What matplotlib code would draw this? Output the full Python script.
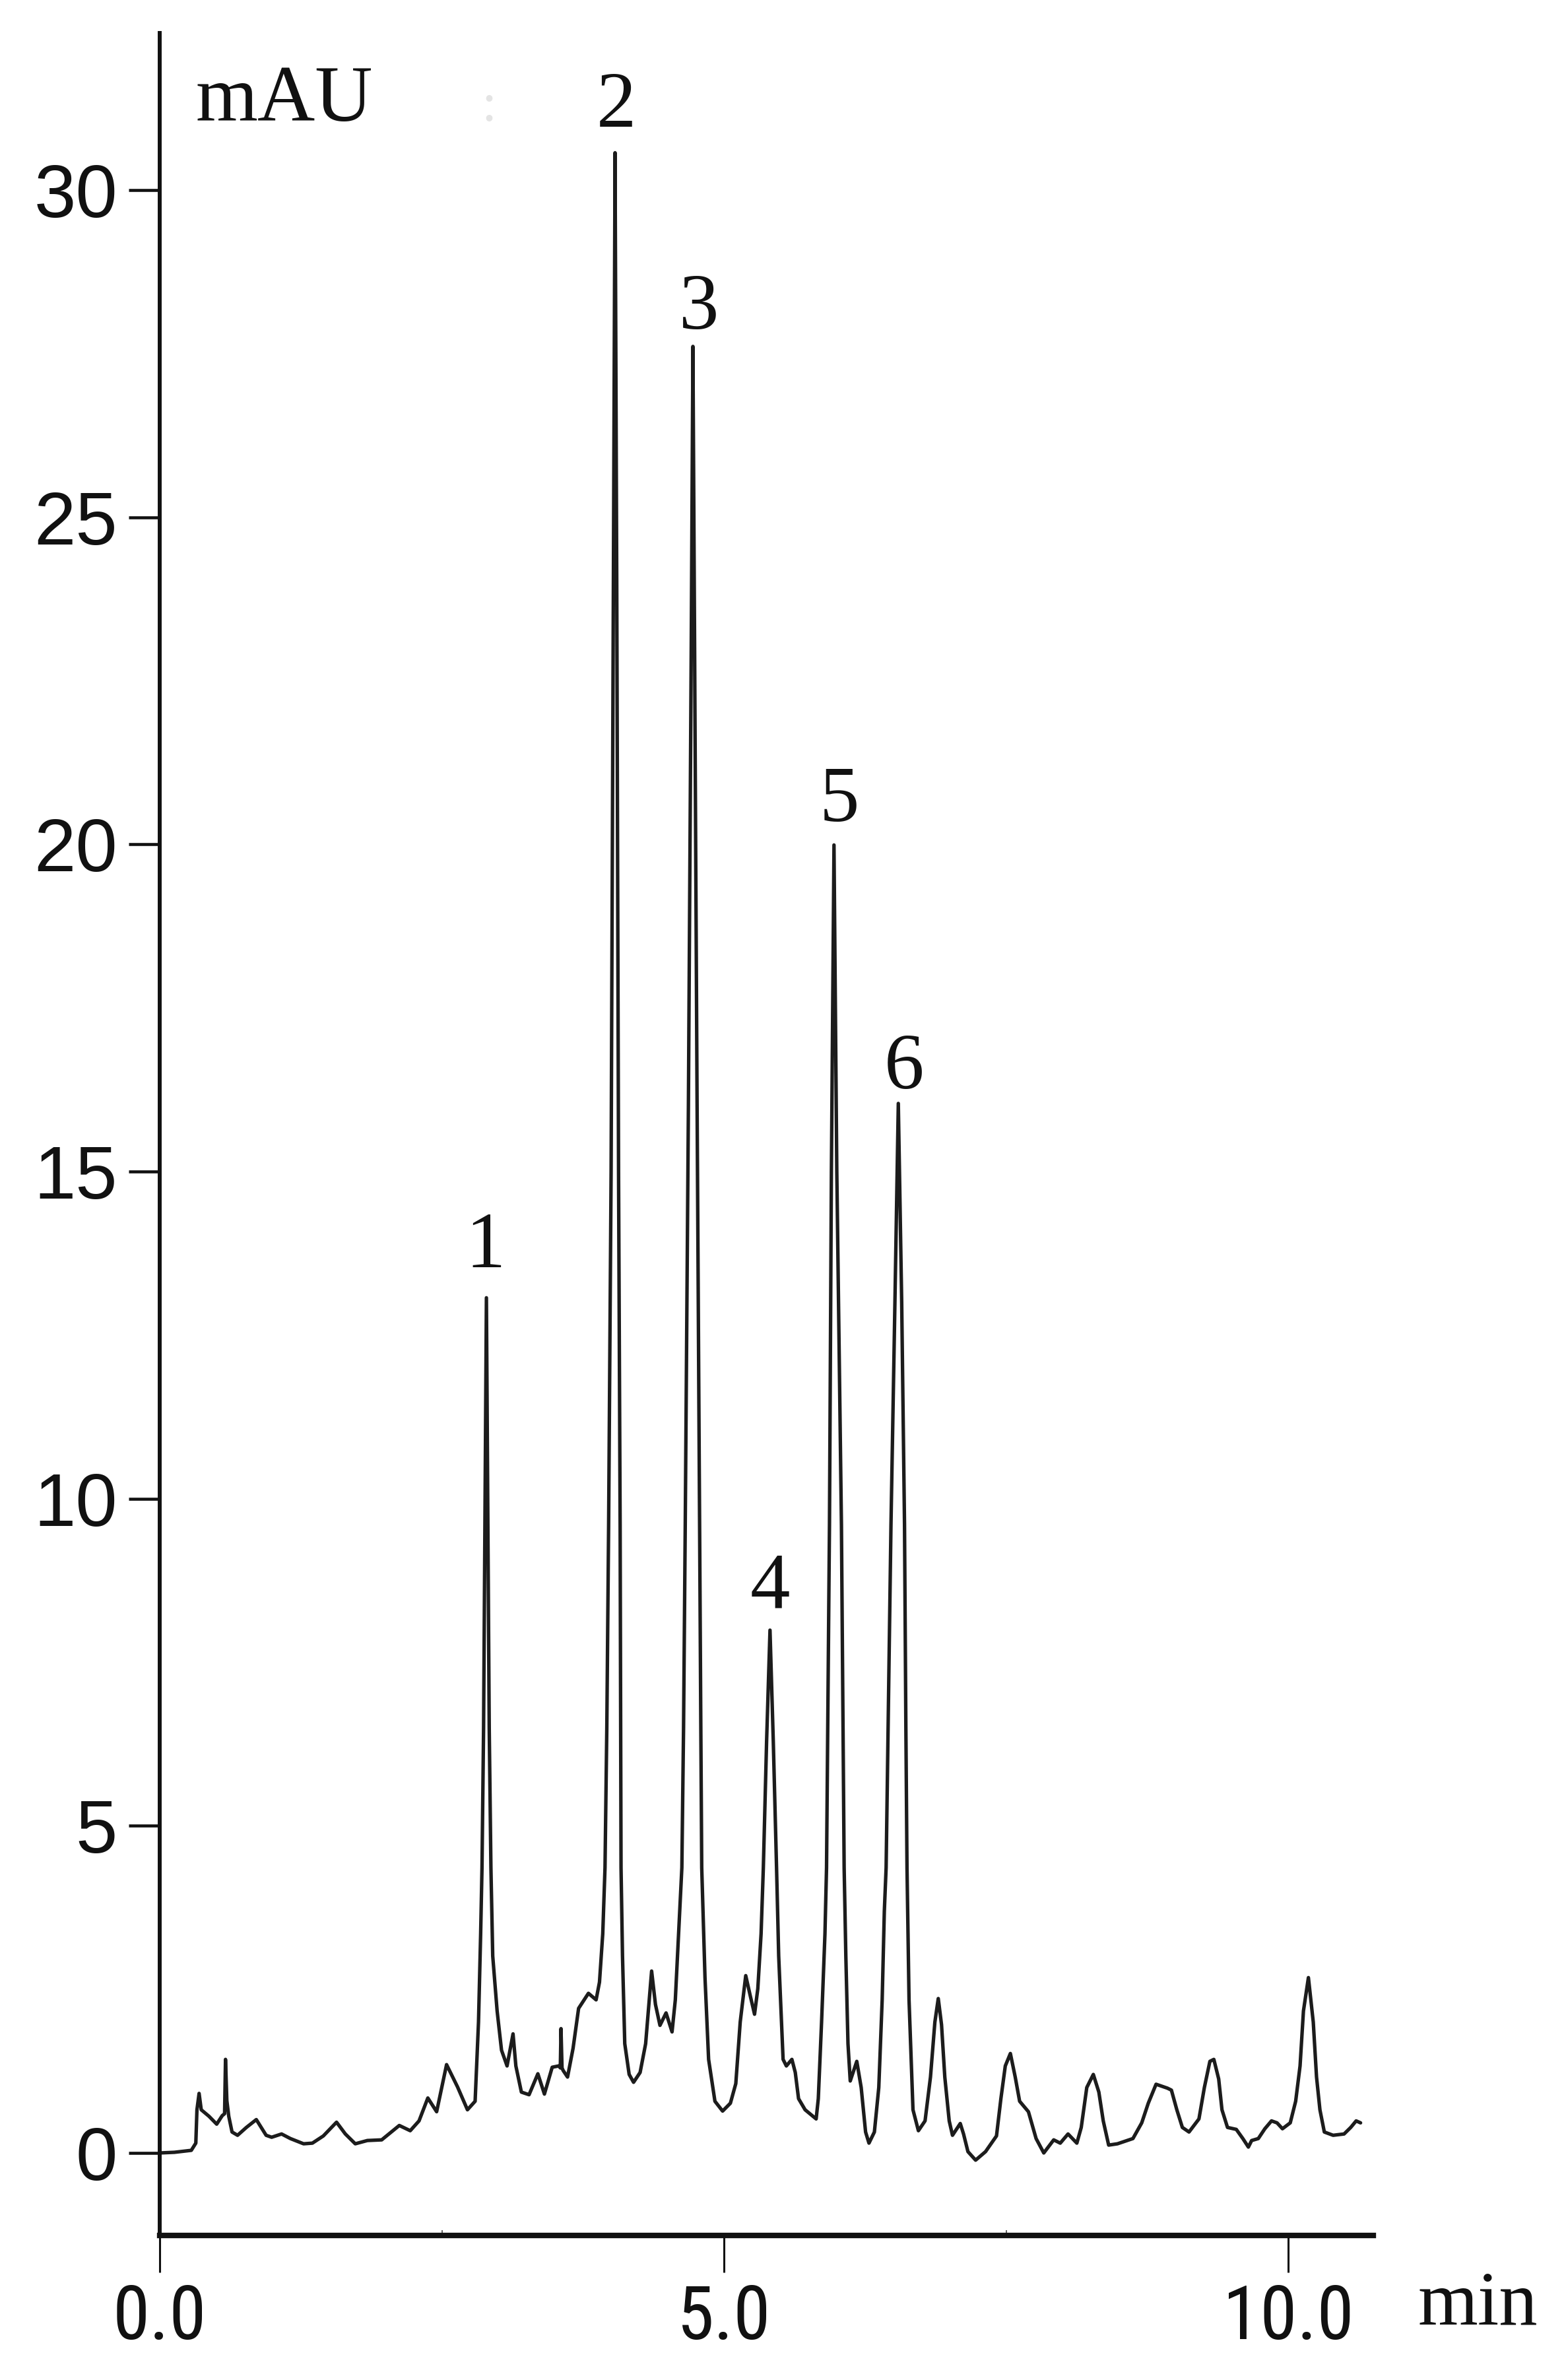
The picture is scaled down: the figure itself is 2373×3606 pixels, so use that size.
import matplotlib
matplotlib.use("Agg")
import matplotlib.pyplot as plt
from matplotlib.ticker import FixedLocator
from matplotlib import font_manager

# ---------------- data ----------------
time_min = [
    0.00, 0.13, 0.28, 0.32, 0.33, 0.349, 0.368, 0.437, 0.505, 0.554, 0.575, 0.583, 0.595, 0.612,
    0.641, 0.69, 0.768, 0.856, 0.943, 0.992, 1.080, 1.158, 1.275, 1.353, 1.450, 1.567, 1.645,
    1.733, 1.840, 1.967, 2.045, 2.123, 2.220, 2.298, 2.376, 2.454, 2.542, 2.639, 2.727, 2.795,
    2.825, 2.844, 2.856, 2.870, 2.882, 2.895, 2.908, 2.920, 2.935, 2.951, 2.990, 3.029, 3.078,
    3.131, 3.156, 3.205, 3.273, 3.351, 3.409, 3.478, 3.536, 3.550, 3.556, 3.565, 3.575, 3.614,
    3.663, 3.712, 3.799, 3.867, 3.897, 3.926, 3.946, 3.962, 3.978, 4.000, 4.020, 4.035, 4.050,
    4.066, 4.080, 4.088, 4.101, 4.121, 4.160, 4.199, 4.257, 4.306, 4.335, 4.359, 4.393, 4.433,
    4.487, 4.540, 4.569, 4.598, 4.627, 4.642, 4.657, 4.685, 4.710, 4.725, 4.740, 4.762, 4.784,
    4.795, 4.803, 4.832, 4.864, 4.920, 4.988, 5.057, 5.105, 5.144, 5.193, 5.232, 5.271, 5.300,
    5.329, 5.349, 5.378, 5.408, 5.437, 5.466, 5.485, 5.524, 5.553, 5.602, 5.632, 5.661, 5.719,
    5.817, 5.836, 5.865, 5.895, 5.909, 5.935, 5.952, 5.975, 6.000, 6.041, 6.065, 6.080, 6.099,
    6.119, 6.177, 6.216, 6.255, 6.285, 6.333, 6.372, 6.402, 6.421, 6.437, 6.480, 6.515, 6.545,
    6.575, 6.600, 6.612, 6.622, 6.640, 6.675, 6.723, 6.782, 6.830, 6.869, 6.899, 6.928, 6.957, 6.996,
    7.025, 7.094, 7.123, 7.162, 7.230, 7.318, 7.415, 7.454, 7.493, 7.538, 7.581, 7.620, 7.698,
    7.766, 7.834, 7.922, 7.980, 8.049, 8.127, 8.166, 8.215, 8.273, 8.322, 8.361, 8.409, 8.487,
    8.624, 8.702, 8.760, 8.829, 8.880, 8.930, 8.965, 9.013, 9.062, 9.121, 9.209, 9.257, 9.306,
    9.341, 9.384, 9.413, 9.462, 9.540, 9.598, 9.647, 9.676, 9.735, 9.793, 9.852, 9.901, 9.949,
    10.018, 10.066, 10.105, 10.135, 10.179, 10.222, 10.251, 10.281, 10.320, 10.398, 10.495,
    10.554, 10.602, 10.641,
]
absorbance_mau = [
    0.00, 0.01, 0.04, 0.15, 0.66, 0.91, 0.66, 0.56, 0.44, 0.57, 0.60, 1.43, 0.80, 0.56,
    0.32, 0.27, 0.39, 0.51, 0.27, 0.24, 0.29, 0.22, 0.14, 0.15, 0.26, 0.47, 0.29,
    0.14, 0.19, 0.20, 0.31, 0.42, 0.34, 0.49, 0.84, 0.63, 1.35, 1.01, 0.66, 0.79,
    2.00, 3.35, 4.36, 6.5, 9.6, 13.07, 9.6, 6.5, 4.36, 3.01, 2.17, 1.57, 1.33,
    1.82, 1.33, 0.93, 0.89, 1.21, 0.90, 1.31, 1.33, 1.30, 1.90, 1.30, 1.26, 1.16,
    1.60, 2.21, 2.44, 2.34, 2.61, 3.35, 4.36, 6.5, 9.6, 15.0, 24.0, 30.57, 24.0,
    15.0, 9.6, 4.36, 3.01, 1.67, 1.20, 1.08, 1.23, 1.67, 2.27, 2.78, 2.27, 1.95,
    2.14, 1.85, 2.34, 3.35, 4.36, 6.5, 9.6, 16.0, 23.0, 27.61, 23.0, 16.0, 9.6,
    6.5, 4.36, 2.68, 1.43, 0.79, 0.64, 0.76, 1.06, 2.00, 2.71, 2.41, 2.12, 2.51,
    3.35, 4.36, 6.3, 7.99, 6.3, 4.36, 3.01, 1.43, 1.33, 1.43, 1.23, 0.83, 0.66,
    0.52, 0.83, 2.00, 3.35, 4.36, 9.6, 15.0, 19.99, 15.0, 9.6, 4.36, 3.01, 1.67,
    1.10, 1.40, 1.00, 0.32, 0.15, 0.32, 1.00, 2.34, 3.69, 4.36, 9.6, 13.0, 16.04,
    13.0, 9.6, 6.5, 4.36, 2.34, 0.66, 0.34, 0.49, 1.16, 2.00, 2.36, 1.96, 1.16, 0.49,
    0.27, 0.45, 0.29, 0.02, -0.11, 0.02, 0.26, 0.83, 1.33, 1.52, 1.16, 0.79, 0.63,
    0.22, 0.00, 0.20, 0.15, 0.29, 0.15, 0.39, 1.00, 1.20, 0.93, 0.49, 0.12, 0.14,
    0.22, 0.46, 0.76, 1.05, 1.02, 0.99, 0.96, 0.66, 0.39, 0.32, 0.52, 1.00, 1.40,
    1.43, 1.13, 0.66, 0.39, 0.36, 0.22, 0.09, 0.19, 0.22, 0.37, 0.49, 0.46, 0.37,
    0.46, 0.79, 1.33, 2.17, 2.68, 2.00, 1.16, 0.66, 0.32, 0.27, 0.29,
    0.39, 0.49, 0.46,
]

peak_labels = ["1", "2", "3", "4", "5", "6"]
peak_label_x = [2.888, 4.047, 4.778, 5.410, 6.021, 6.599]
peak_label_y = [13.54, 30.97, 27.88, 8.34, 20.36, 16.27]

y_ticks = [0, 5, 10, 15, 20, 25, 30]
y_tick_labels = ["0", "5", "10", "15", "20", "25", "30"]
x_ticks = [0.0, 5.0, 10.0]
x_tick_labels = ["0.0", "5.0", "10.0"]
x_minor_ticks = [2.5, 7.5]

# ---------------- fonts ----------------
sans = ["Liberation Sans", "DejaVu Sans"]
serif = ["Liberation Serif", "DejaVu Serif"]

# look for an installed narrow / condensed sans face for the time-axis labels
narrow_family = None
narrow_stretch = "normal"
_names = {}
for f in font_manager.fontManager.ttflist:
    _names.setdefault(f.name, set()).add(str(f.stretch))
for cand in ["Liberation Sans Narrow", "Arial Narrow", "Roboto Condensed",
             "Open Sans Condensed", "DejaVu Sans Condensed", "Noto Sans Condensed"]:
    if cand in _names:
        narrow_family = cand
        break
if narrow_family is None:
    for fam in ["Liberation Sans", "Roboto", "Noto Sans", "Open Sans", "DejaVu Sans"]:
        st = _names.get(fam, set())
        if any(s in ("condensed", "semi-condensed", "extra-condensed", "75", "87.5", "62.5")
               for s in st):
            narrow_family = fam
            narrow_stretch = "condensed"
            break
if narrow_family is None:
    narrow_family = "Liberation Sans"
narrow = [narrow_family, "Liberation Sans", "DejaVu Sans"]

# ---------------- figure ----------------
W, H, DPI = 2373, 3606, 100
fig = plt.figure(figsize=(W / DPI, H / DPI), dpi=DPI)
fig.patch.set_facecolor("white")

ax_left, ax_right, ax_bottom, ax_top = 242, 2081, 3387, 50  # pixels
ax = fig.add_axes([ax_left / W, (H - ax_bottom) / H,
                   (ax_right - ax_left) / W, (ax_bottom - ax_top) / H])

ax.plot(time_min, absorbance_mau, color="#1c1c1c", lw=3.8,
        solid_joinstyle="round", solid_capstyle="round", clip_on=False)

ax.set_xlim(0, 10.754)
ax.set_ylim(-1.261, 32.40)

for s in ["top", "right"]:
    ax.spines[s].set_visible(False)
ax.spines["left"].set_linewidth(4.3)
ax.spines["bottom"].set_linewidth(6.0)
ax.spines["left"].set_color("#111111")
ax.spines["bottom"].set_color("#111111")

ax.set_yticks(y_ticks, labels=y_tick_labels)
ax.set_xticks(x_ticks, labels=x_tick_labels)
ax.xaxis.set_minor_locator(FixedLocator(x_minor_ticks))

ax.tick_params(axis="y", which="major", direction="out", length=34, width=3.3,
               pad=12, labelsize=82, colors="#111111")
ax.tick_params(axis="x", which="major", direction="out", length=40, width=2.2,
               pad=12, labelsize=82, colors="#111111")
ax.tick_params(axis="x", which="minor", direction="in", length=6, width=1.2,
               colors="#444444")
for lbl in ax.get_yticklabels():
    lbl.set_fontfamily(sans)
for lbl in ax.get_xticklabels():
    lbl.set_fontfamily(narrow)
    lbl.set_fontstretch(narrow_stretch)

# unit labels
ax.text(0.32, 31.06, "mAU", fontsize=87, family=serif, ha="left", va="baseline",
        color="#111111")
ax.text(2.85, 31.06, ":", fontsize=60, family=serif, ha="left", va="baseline",
        color="#e4e4e4")
ax.text(11.15, -2.62, "min", fontsize=84, family=serif, ha="left", va="baseline",
        color="#111111", clip_on=False)

# peak numbers
for lab, px, py in zip(peak_labels, peak_label_x, peak_label_y):
    ax.text(px, py, lab, fontsize=87, family=serif, ha="center", va="baseline",
            color="#111111")

fig.savefig("out.png", dpi=DPI, facecolor="white")
